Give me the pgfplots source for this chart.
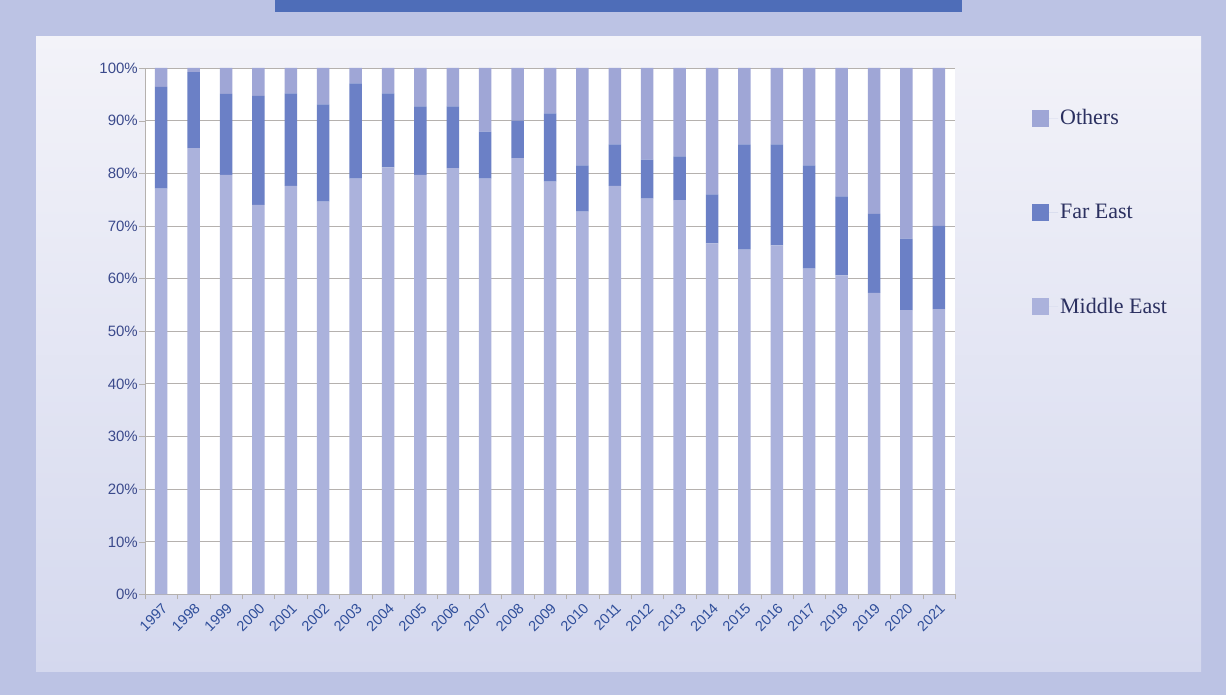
\documentclass[border=0pt]{standalone}
\usepackage{pgfplots}
\pgfplotsset{compat=1.18}
\usepackage{pgfplotstable}
\usepackage{fontspec}
\setmainfont{Liberation Serif}
\newfontfamily\tickfont{Liberation Sans}
\definecolor{bgout}{HTML}{BCC3E4}
\definecolor{topbar}{HTML}{4E6DB8}
\definecolor{panelTop}{HTML}{F3F3F9}
\definecolor{panelBot}{HTML}{D4D8EE}
\definecolor{cME}{HTML}{ABB2DC}
\definecolor{cFE}{HTML}{6B80C6}
\definecolor{cOT}{HTML}{9FA6D6}
\definecolor{gridc}{HTML}{B5B1AE}
\definecolor{ylab}{HTML}{3B4A8C}
\definecolor{xlab}{HTML}{2F4E9A}
\definecolor{legtext}{HTML}{2B3060}

\pgfplotstableread{
year ME FE OT
1997 77.1 19.3 3.6
1998 84.8 14.4 0.8
1999 79.7 15.4 4.9
2000 74.0 20.7 5.3
2001 77.6 17.6 4.8
2002 74.6 18.5 6.9
2003 79.0 18.1 2.9
2004 81.1 14.1 4.8
2005 79.7 13.0 7.3
2006 81.0 11.7 7.3
2007 79.0 8.9 12.1
2008 82.9 7.1 10.0
2009 78.4 13.0 8.6
2010 72.7 8.8 18.5
2011 77.6 7.9 14.5
2012 75.2 7.4 17.4
2013 74.9 8.3 16.8
2014 66.7 9.3 24.0
2015 65.5 20.0 14.5
2016 66.3 19.2 14.5
2017 61.9 19.6 18.5
2018 60.6 15.0 24.4
2019 57.3 15.0 27.7
2020 54.0 13.6 32.4
2021 54.2 15.8 30.0
}\datatable

\begin{document}
\begin{tikzpicture}[x=1pt,y=1pt]
\fill[bgout] (0,0) rectangle (1226,695);
\fill[topbar] (275,683) rectangle (962,695);
\shade[top color=panelTop,bottom color=panelBot] (36,23) rectangle (1201,658);
\begin{axis}[
  at={(145pt,100.5pt)}, anchor=south west,
  width=810pt, height=526.5pt, scale only axis,
  ybar stacked, bar width=12.5pt,
  xmin=1996.5, xmax=2021.5, ymin=0, ymax=100,
  axis background/.style={fill=white},
  axis x line*=bottom, axis y line*=left,
  axis line style={-, draw=gridc},
  xtick={1997,...,2021},
  xticklabels={1997,1998,1999,2000,2001,2002,2003,2004,2005,2006,2007,2008,2009,2010,2011,2012,2013,2014,2015,2016,2017,2018,2019,2020,2021},
  minor xtick={1996.5,1997.5,...,2021.5},
  major x tick style={draw=none},
  minor x tick style={draw=gridc},
  minor tick length=5pt,
  ytick={0,10,...,100},
  yticklabels={0\%,10\%,20\%,30\%,40\%,50\%,60\%,70\%,80\%,90\%,100\%},
  major tick length=6pt,
  tick align=outside,
  y tick style={draw=gridc},
  ymajorgrids, grid style={draw=gridc, line width=0.8pt},
  yticklabel style={font=\tickfont\fontsize{15}{18}\selectfont, text=ylab, inner sep=1pt},
  xticklabel style={font=\tickfont\fontsize{14.5}{17}\selectfont, text=xlab, rotate=45, anchor=north east, inner sep=1pt},
  reverse legend,
  legend cell align=left,
  legend style={at={(1.095,0.925)}, anchor=north west, draw=none, fill=none,
    font=\fontsize{22}{25}\selectfont\color{legtext}, row sep=74pt, inner sep=0pt},
]
\addplot+[fill=cME, draw=none, legend image code/.code={\fill[cME] (0pt,-8.5pt) rectangle (17pt,8.5pt);\path (0pt,0pt) -- (26pt,0pt);}] table[x=year,y=ME] {\datatable};
\addlegendentry{Middle East}
\addplot+[fill=cFE, draw=none, legend image code/.code={\fill[cFE] (0pt,-8.5pt) rectangle (17pt,8.5pt);\path (0pt,0pt) -- (26pt,0pt);}] table[x=year,y=FE] {\datatable};
\addlegendentry{Far East}
\addplot+[fill=cOT, draw=none, legend image code/.code={\fill[cOT] (0pt,-8.5pt) rectangle (17pt,8.5pt);\path (0pt,0pt) -- (26pt,0pt);}] table[x=year,y=OT] {\datatable};
\addlegendentry{Others}
\end{axis}
\end{tikzpicture}
\end{document}
